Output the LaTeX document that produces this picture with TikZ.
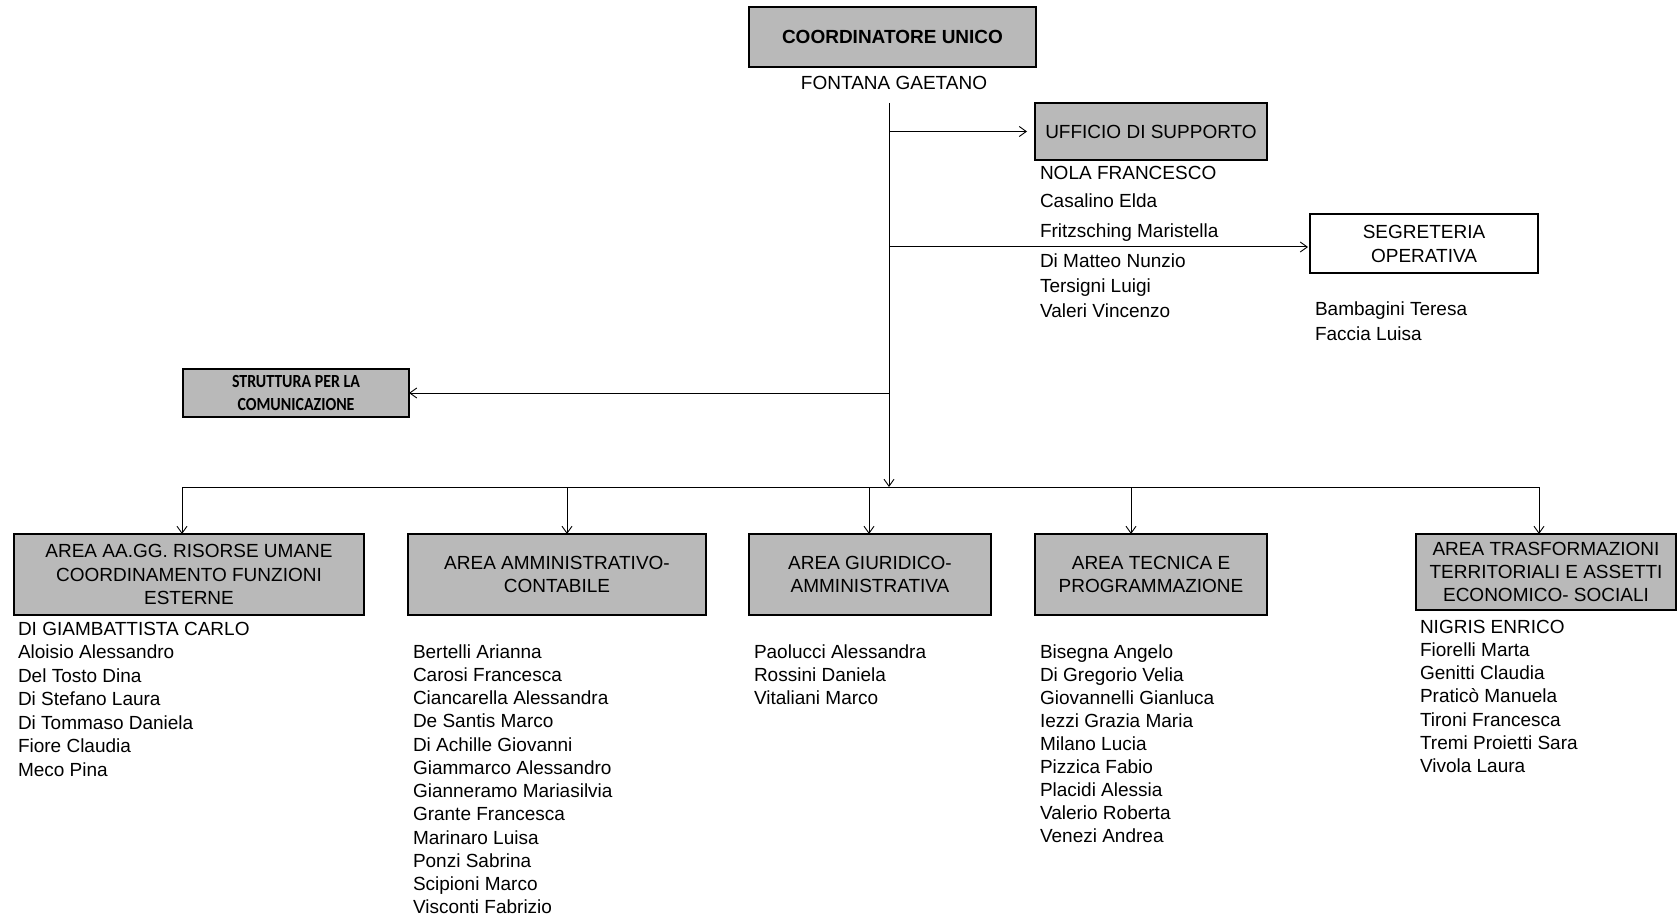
\documentclass[tikz,border=0pt]{standalone}
\usepackage{fontspec}
\setmainfont{Liberation Sans}
\newfontfamily\califont[FakeStretch=0.86]{Carlito}
\usetikzlibrary{arrows.meta}
\definecolor{boxgray}{RGB}{185,185,185}
\begin{document}
\begin{tikzpicture}[x=1pt,y=-1pt,
  every node/.style={inner sep=0pt, outer sep=0pt},
  graybox/.style={draw=black, line width=1.8pt, fill=boxgray, align=center, font=\fontsize{19}{23.3}\selectfont},
  whitebox/.style={draw=black, line width=1.3pt, fill=white, align=center, font=\fontsize{19}{24}\selectfont},
  conn/.style={line width=1pt, draw=black},
  arr/.style={conn, -{Straight Barb[length=7pt,width=10pt,line width=0.9pt]}},
  item/.style={anchor=base west, font=\fontsize{19}{23}\selectfont}]
\useasboundingbox (0,0) rectangle (1678,917);

% top boxes
\node[graybox, font=\bfseries\fontsize{19}{23}\selectfont, minimum width=287pt, minimum height=60pt] (coord) at (892.5,37) {COORDINATORE UNICO};
\node[item, anchor=base] (fontana) at (894,90) {FONTANA GAETANO};
\node[graybox, minimum width=232pt, minimum height=57pt] (uff) at (1151,131.5) {UFFICIO DI SUPPORTO};
\node[whitebox, minimum width=228pt, minimum height=59pt] (seg) at (1424,243.5) {SEGRETERIA\\OPERATIVA};
\node[graybox, font=\califont\bfseries\fontsize{18.5}{23.5}\selectfont, minimum width=226pt, minimum height=48pt] (str) at (296,393) {STRUTTURA PER LA\\COMUNICAZIONE};

% area boxes
\node[graybox, minimum width=350pt, minimum height=81pt] (a1) at (189,574.5) {AREA AA.GG. RISORSE UMANE\\COORDINAMENTO FUNZIONI\\ESTERNE};
\node[graybox, minimum width=298pt, minimum height=81pt] (a2) at (557,574.5) {AREA AMMINISTRATIVO-\\CONTABILE};
\node[graybox, minimum width=242pt, minimum height=81pt] (a3) at (870,574.5) {AREA GIURIDICO-\\AMMINISTRATIVA};
\node[graybox, minimum width=232pt, minimum height=81pt] (a4) at (1151,574.5) {AREA TECNICA E\\PROGRAMMAZIONE};
\node[graybox, minimum width=260pt, minimum height=76pt] (a5) at (1546,572) {AREA TRASFORMAZIONI\\TERRITORIALI E ASSETTI\\ECONOMICO- SOCIALI};

% connectors
\coordinate (trunkTop) at (889,103);
\coordinate (busC) at (889,487);
\coordinate (segIn) at (1310,247);
\coordinate (d1) at (182,487);
\coordinate (d2) at (567,487);
\coordinate (d3) at (869,487);
\coordinate (d4) at (1131,487);
\coordinate (d5) at (1539,487);

\draw[arr] (trunkTop) -- (busC);
\draw[arr, shorten >=8pt] (trunkTop |- uff.west) -- (uff.west);
\draw[arr, shorten >=2pt] (trunkTop |- segIn) -- (segIn);
\draw[arr] (trunkTop |- str.east) -- (str.east);
\draw[conn] (d1) -- (d5);
\draw[arr] (d1) -- (d1 |- a1.north);
\draw[arr] (d2) -- (d2 |- a2.north);
\draw[arr] (d3) -- (d3 |- a3.north);
\draw[arr] (d4) -- (d4 |- a4.north);
\draw[arr] (d5) -- (d5 |- a5.north);

% lists
\foreach \t/\yy [count=\i] in {NOLA FRANCESCO/180, Casalino Elda/208, Fritzsching Maristella/238, Di Matteo Nunzio/268, Tersigni Luigi/293, Valeri Vincenzo/317}
  \node[item] (u\i) at (1040,\yy) {\t};
\foreach \t/\yy [count=\i] in {Bambagini Teresa/316, Faccia Luisa/340}
  \node[item] (s\i) at (1315,\yy) {\t};

\foreach \t [count=\i] in {DI GIAMBATTISTA CARLO, Aloisio Alessandro, Del Tosto Dina, Di Stefano Laura, Di Tommaso Daniela, Fiore Claudia, Meco Pina}
  \node[item] (p1n\i) at (18,{635+23.5*(\i-1)}) {\t};
\foreach \t [count=\i] in {Bertelli Arianna, Carosi Francesca, Ciancarella Alessandra, De Santis Marco, Di Achille Giovanni, Giammarco Alessandro, Gianneramo Mariasilvia, Grante Francesca, Marinaro Luisa, Ponzi Sabrina, Scipioni Marco, Visconti Fabrizio}
  \node[item] (p2n\i) at (413,{658+23.25*(\i-1)}) {\t};
\foreach \t [count=\i] in {Paolucci Alessandra, Rossini Daniela, Vitaliani Marco}
  \node[item] (p3n\i) at (754,{658+23.3*(\i-1)}) {\t};
\foreach \t [count=\i] in {Bisegna Angelo, Di Gregorio Velia, Giovannelli Gianluca, Iezzi Grazia Maria, Milano Lucia, Pizzica Fabio, Placidi Alessia, Valerio Roberta, Venezi Andrea}
  \node[item] (p4n\i) at (1040,{658+23.1*(\i-1)}) {\t};
\foreach \t [count=\i] in {NIGRIS ENRICO, Fiorelli Marta, Genitti Claudia, Praticò Manuela, Tironi Francesca, Tremi Proietti Sara, Vivola Laura}
  \node[item] (p5n\i) at (1420,{633+23.3*(\i-1)}) {\t};
\end{tikzpicture}
\end{document}
